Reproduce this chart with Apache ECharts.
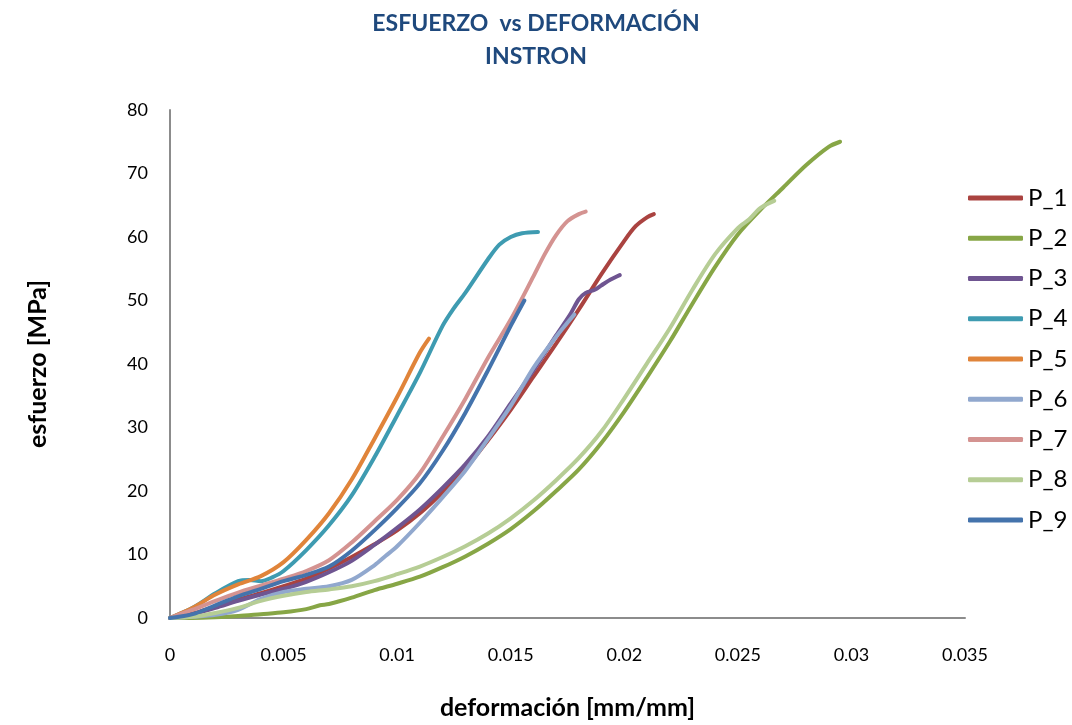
<!DOCTYPE html>
<html>
<head>
<meta charset="utf-8">
<script src="https://cdn.jsdelivr.net/npm/echarts@6/dist/echarts.min.js"></script>
<style>
html,body{margin:0;padding:0;background:#fff;}
#chart{width:1072px;height:725px;}
</style>
</head>
<body>
<div id="chart"></div>
<script>
// ---- Data (strain [mm/mm], stress [MPa]) ----
const seriesNames = ['P_1','P_2','P_3','P_4','P_5','P_6','P_7','P_8','P_9'];
const xTicks = [0, 0.005, 0.01, 0.015, 0.02, 0.025, 0.03, 0.035];
const yTicks = [0, 10, 20, 30, 40, 50, 60, 70, 80];

const P_1 = [[0,0],[0.001,0.7],[0.002,1.8],[0.003,2.9],[0.004,3.9],[0.005,5.0],[0.006,6.2],[0.007,7.8],[0.008,9.6],[0.009,11.6],[0.010,13.8],[0.011,16.5],[0.012,19.8],[0.013,23.5],[0.014,28.0],[0.015,32.8],[0.016,38.0],[0.017,43.2],[0.018,48.6],[0.019,54.2],[0.020,59.4],[0.0205,61.7],[0.021,63.1],[0.0213,63.6]];
const P_2 = [[0,0],[0.001,0],[0.002,0.1],[0.003,0.3],[0.004,0.6],[0.005,0.9],[0.006,1.4],[0.0066,2.0],[0.007,2.2],[0.008,3.2],[0.009,4.4],[0.010,5.4],[0.011,6.5],[0.012,8.0],[0.013,9.7],[0.014,11.7],[0.015,14.0],[0.016,16.8],[0.017,20.0],[0.018,23.4],[0.019,27.6],[0.020,32.5],[0.021,37.9],[0.022,43.5],[0.023,49.5],[0.024,55.3],[0.025,60.4],[0.026,64.3],[0.027,67.8],[0.028,71.3],[0.029,74.2],[0.0295,75.0]];
const P_3 = [[0,0],[0.001,0.6],[0.002,1.6],[0.003,2.7],[0.004,3.7],[0.005,4.6],[0.006,5.7],[0.007,7.2],[0.008,9.0],[0.009,11.5],[0.010,14.2],[0.011,17.1],[0.012,20.5],[0.013,24.2],[0.014,28.6],[0.015,33.8],[0.016,39.0],[0.017,44.5],[0.0176,47.7],[0.018,50.2],[0.0183,51.2],[0.0187,51.7],[0.019,52.4],[0.0194,53.3],[0.0198,54.0]];
const P_4 = [[0,0],[0.001,1.6],[0.002,3.9],[0.003,5.8],[0.0035,6.0],[0.004,5.8],[0.0045,6.4],[0.005,7.4],[0.006,10.7],[0.007,14.6],[0.008,19.3],[0.009,25.3],[0.010,31.9],[0.011,38.6],[0.012,46.0],[0.0125,48.8],[0.013,51.2],[0.014,56.5],[0.0145,58.8],[0.015,60.0],[0.0155,60.6],[0.0162,60.8]];
const P_5 = [[0,0],[0.001,1.6],[0.002,3.7],[0.003,5.3],[0.004,6.6],[0.005,8.8],[0.006,12.3],[0.007,16.5],[0.008,21.8],[0.009,28.2],[0.010,34.8],[0.011,41.8],[0.0114,44.0]];
const P_6 = [[0,0],[0.001,0.2],[0.002,0.5],[0.003,1.3],[0.004,3.0],[0.005,4.1],[0.006,4.6],[0.007,5.0],[0.008,6.0],[0.009,8.3],[0.0095,9.8],[0.010,11.3],[0.011,15.0],[0.012,19.0],[0.013,23.2],[0.014,28.2],[0.015,33.4],[0.016,39.4],[0.017,44.3],[0.0178,47.8]];
const P_7 = [[0,0],[0.001,1.3],[0.002,2.7],[0.003,4.0],[0.004,5.1],[0.005,6.2],[0.006,7.4],[0.007,9.1],[0.008,11.9],[0.009,15.2],[0.010,18.6],[0.011,22.8],[0.012,28.5],[0.013,34.5],[0.014,41.0],[0.015,47.0],[0.016,53.8],[0.0165,57.3],[0.017,60.3],[0.0175,62.5],[0.018,63.6],[0.0183,64.0]];
const P_8 = [[0,0],[0.001,0.2],[0.002,0.8],[0.003,1.6],[0.004,2.7],[0.005,3.5],[0.006,4.1],[0.007,4.5],[0.008,5.0],[0.009,5.8],[0.010,6.9],[0.011,8.1],[0.012,9.6],[0.013,11.3],[0.014,13.3],[0.015,15.7],[0.016,18.5],[0.017,21.7],[0.018,25.2],[0.019,29.4],[0.020,34.6],[0.021,40.1],[0.022,45.6],[0.023,51.7],[0.024,57.3],[0.025,61.4],[0.0255,62.8],[0.026,64.6],[0.0266,65.7]];
const P_9 = [[0,0],[0.001,0.6],[0.002,2.0],[0.003,3.4],[0.004,4.6],[0.005,5.8],[0.006,6.8],[0.007,8.1],[0.008,10.6],[0.009,13.8],[0.010,17.3],[0.011,21.2],[0.012,26.3],[0.013,32.3],[0.014,39.0],[0.015,46.0],[0.0156,50.0]];

const seriesData = [P_1,P_2,P_3,P_4,P_5,P_6,P_7,P_8,P_9];
const colors = ['#AA4340','#87A646','#6F5591','#3E9BB1','#E0843A','#91A8CE','#D49391','#B6CD95','#4473AC'];

const FONT = 'Lato, "Liberation Sans", sans-serif';
const chart = echarts.init(document.getElementById('chart'));
chart.setOption({
  animation: false,
  backgroundColor: '#ffffff',
  title: {
    text: 'ESFUERZO  vs DEFORMACIÓN\nINSTRON',
    left: 'center',
    top: 2,
    textStyle: {fontFamily: FONT, fontSize: 23, fontWeight: 'bold', color: '#1F497D', lineHeight: 33}
  },
  legend: {
    orient: 'vertical',
    left: 968,
    top: 186,
    padding: 0,
    itemWidth: 55,
    itemHeight: 5,
    itemGap: 16.25,
    icon: 'roundRect',
    data: seriesNames,
    textStyle: {fontFamily: FONT, fontSize: 24, color: '#000', lineHeight: 24, padding: [0,0,0,0]}
  },
  grid: {left: 170, right: 107, top: 110, bottom: 102, containLabel: false},
  xAxis: {
    type: 'value',
    min: xTicks[0], max: xTicks[xTicks.length-1], interval: 0.005,
    name: 'deformación [mm/mm]',
    nameLocation: 'middle',
    nameGap: 77,
    nameTextStyle: {fontFamily: FONT, fontSize: 25, fontWeight: 'bold', color: '#000'},
    axisLine: {show: true, lineStyle: {color: '#8C8C8C', width: 2}},
    axisTick: {show: false},
    splitLine: {show: false},
    axisLabel: {fontFamily: FONT, fontSize: 18, color: '#000', margin: 28,
      formatter: v => String(parseFloat(v.toFixed(3)))}
  },
  yAxis: {
    type: 'value',
    min: yTicks[0], max: yTicks[yTicks.length-1], interval: 10,
    name: 'esfuerzo [MPa]',
    nameLocation: 'middle',
    nameGap: 120,
    nameTextStyle: {fontFamily: FONT, fontSize: 25, fontWeight: 'bold', color: '#000'},
    axisLine: {show: true, lineStyle: {color: '#8C8C8C', width: 2}},
    axisTick: {show: false},
    splitLine: {show: false},
    axisLabel: {fontFamily: FONT, fontSize: 18, color: '#000', margin: 22}
  },
  series: seriesNames.map((n, i) => ({
    name: n,
    type: 'line',
    data: seriesData[i],
    smooth: 0.3,
    showSymbol: false,
    symbol: 'none',
    color: colors[i],
    lineStyle: {width: 4, color: colors[i], cap: 'round', join: 'round'},
    emphasis: {disabled: true}
  }))
});
</script>
</body>
</html>
